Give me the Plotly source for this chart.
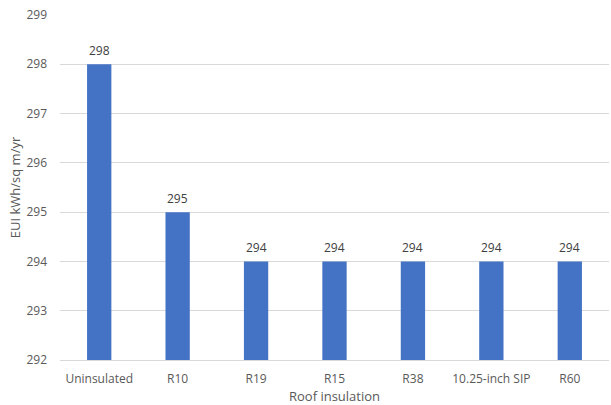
import plotly.graph_objects as go

categories = ["Uninsulated", "R10", "R19", "R15", "R38", "10.25-inch SIP", "R60"]
eui_values = [298, 295, 294, 294, 294, 294, 294]
y_ticks = [292, 293, 294, 295, 296, 297, 298, 299]

font_family = "Open Sans, DejaVu Sans, sans-serif"
text_color = "#595959"

fig = go.Figure(
    go.Bar(
        x=categories,
        y=eui_values,
        base=0,
        marker=dict(color="#4472C4", line=dict(width=0)),
        cliponaxis=True,
    )
)

# value labels placed just above each bar top
for cat, val in zip(categories, eui_values):
    fig.add_annotation(
        x=cat,
        y=val,
        text=str(val),
        showarrow=False,
        yanchor="middle",
        yshift=14,
        font=dict(family=font_family, size=12, color="#404040"),
    )

fig.update_layout(
    width=611,
    height=405,
    margin=dict(l=60, r=2, t=15, b=45),
    paper_bgcolor="white",
    plot_bgcolor="white",
    bargap=0.69,
    showlegend=False,
    font=dict(family=font_family, size=12, color=text_color),
)

fig.update_yaxes(
    range=[292, 299],
    tickvals=y_ticks,
    showgrid=True,
    gridcolor="#D9D9D9",
    gridwidth=1,
    zeroline=False,
    showline=False,
    ticks="",
    automargin=False,
    ticklabelstandoff=12,
    tickfont=dict(size=12, color=text_color),
    title=dict(text="EUI kWh/sq m/yr", font=dict(size=13, color=text_color), standoff=2),
)

fig.update_xaxes(
    showgrid=False,
    showline=True,
    linecolor="#D9D9D9",
    linewidth=1,
    ticks="",
    automargin=False,
    tickfont=dict(size=12, color=text_color),
    ticklabelstandoff=8,
    title=dict(text="Roof insulation", font=dict(size=13, color=text_color), standoff=9),
)

fig.write_html("out.html")
